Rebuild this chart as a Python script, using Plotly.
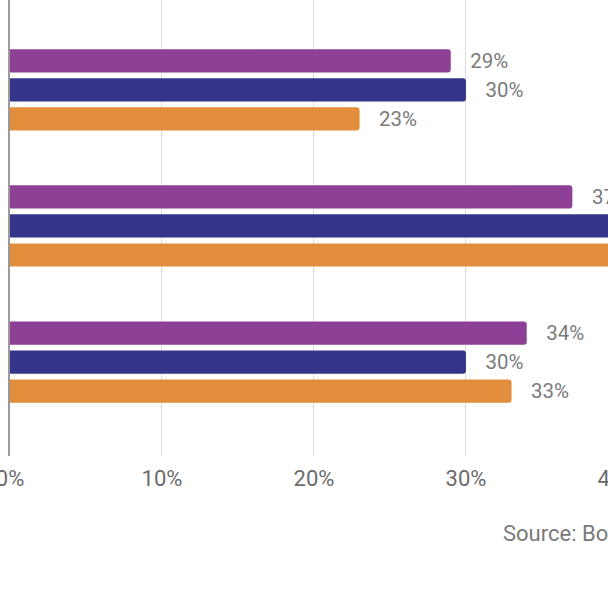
import plotly.graph_objects as go

categories = ["Group 1", "Group 2", "Group 3"]
series_names = ["Series A", "Series B", "Series C"]
series_a = [29, 37, 34]
series_b = [30, 45, 30]
series_c = [23, 42, 33]
colors = ["#8e3f96", "#34358a", "#e18d3b"]
tick_vals = [0, 10, 20, 30, 40]
tick_text = ["0%", "10%", "20%", "30%", "40%"]
source_text = "Source: Boston Consulting Group"

fig = go.Figure()
for name, vals, col in zip(series_names, [series_a, series_b, series_c], colors):
    fig.add_trace(go.Bar(
        y=categories, x=vals, name=name, orientation="h",
        marker=dict(color=col, cornerradius=3, line=dict(width=0)),
        text=[f"\u2007\u00a0{v}%" for v in vals],
        textposition="outside", cliponaxis=False,
        textfont=dict(color="#7a7a7a", size=22, family="Roboto"),
    ))

fig.update_layout(
    width=700, height=608,
    margin=dict(l=10, r=0, t=0, b=152, autoexpand=False),
    barmode="group", bargap=0.36, bargroupgap=0.2,
    showlegend=False,
    plot_bgcolor="white", paper_bgcolor="white",
    font=dict(family="Roboto", color="#6b6b6b", size=22),
)
fig.update_xaxes(
    range=[0, 45.4], tickvals=tick_vals, ticktext=tick_text,
    showgrid=True, gridcolor="#dcdcdc", gridwidth=1,
    zeroline=False, showline=False, automargin=False,
    ticklabelstandoff=7, ticklabeloverflow="allow",
    tickfont=dict(size=22, color="#6b6b6b"),
)
fig.update_yaxes(
    range=[2.69, -0.66], showticklabels=False, showgrid=False, automargin=False,
    showline=True, linecolor="#9a9a9a", linewidth=2, zeroline=False,
)
fig.add_annotation(
    x=0.712, y=-0.171, xref="paper", yref="paper", xanchor="left", yanchor="middle",
    text=source_text, showarrow=False, font=dict(size=22, color="#7a7a7a"),
)

fig.write_html("out.html", post_script="document.body.style.overflow='hidden';document.body.style.margin='0';")
